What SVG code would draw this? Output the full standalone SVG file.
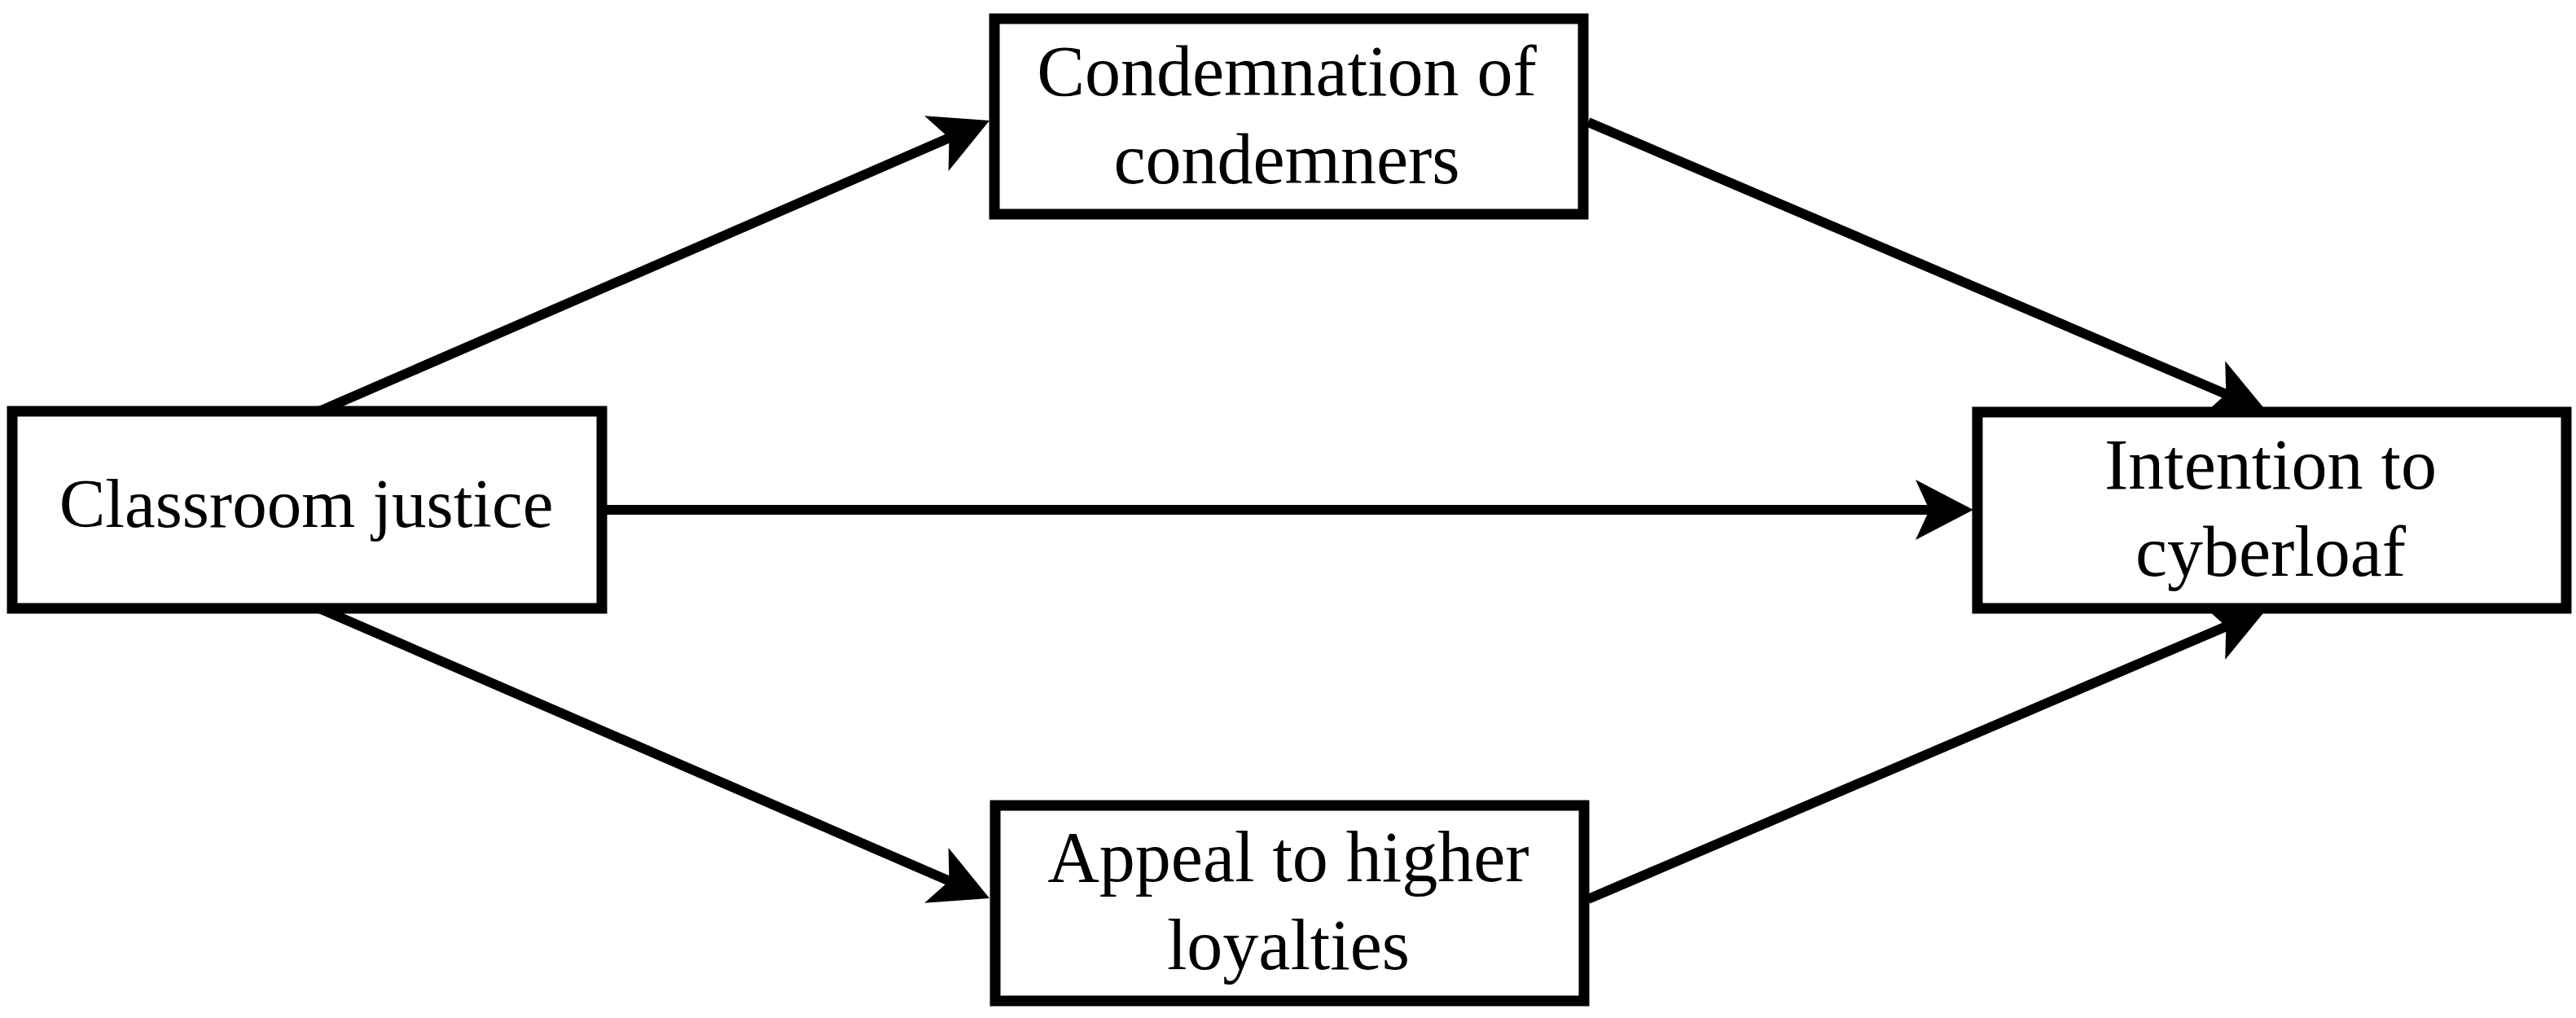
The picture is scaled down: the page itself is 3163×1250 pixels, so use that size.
<svg xmlns="http://www.w3.org/2000/svg" width="3163" height="1250" viewBox="0 0 3163 1250">
  <style>
    .box { fill: #ffffff; stroke: #000000; stroke-width: 13; }
    .lbl { font-family: "Liberation Serif", "Times New Roman", serif; font-size: 88px; fill: #000000; text-anchor: middle; }
    .conn { stroke: #000000; stroke-width: 12; fill: none; marker-end: url(#arrow); }
  </style>
  <defs>
    <marker id="arrow" markerUnits="userSpaceOnUse" viewBox="0 -37 71 74" refX="26" refY="0" markerWidth="71" markerHeight="74" orient="auto">
      <path d="M71,0 L0,-37 L17,0 L0,37 Z" fill="#000000"/>
    </marker>
  </defs>
  <rect x="0" y="0" width="3163" height="1250" fill="#ffffff"/>
  <g id="connectors">
    <line class="conn" x1="392" y1="505" x2="1173.7" y2="165.8"/>
    <line class="conn" x1="1950" y1="150" x2="2741.6" y2="487.4"/>
    <line class="conn" x1="392" y1="747" x2="1173.7" y2="1085.2"/>
    <line class="conn" x1="1950" y1="1104" x2="2741.6" y2="765.7"/>
    <line class="conn" x1="745" y1="626" x2="2378" y2="626"/>
  </g>
  <g id="classroom-justice">
    <rect class="box" x="15" y="505" width="724" height="242"/>
    <text class="lbl" x="376" y="647" style="font-size:85px">Classroom justice</text>
  </g>
  <g id="condemnation">
    <rect class="box" x="1221" y="23" width="723" height="240"/>
    <text class="lbl" x="1580" y="117">Condemnation of</text>
    <text class="lbl" x="1580" y="225">condemners</text>
  </g>
  <g id="intention">
    <rect class="box" x="2428" y="506" width="723" height="241"/>
    <text class="lbl" x="2788" y="600">Intention to</text>
    <text class="lbl" x="2788" y="707">cyberloaf</text>
  </g>
  <g id="appeal">
    <rect class="box" x="1222" y="989" width="723" height="240"/>
    <text class="lbl" x="1582" y="1082">Appeal to higher</text>
    <text class="lbl" x="1582" y="1190">loyalties</text>
  </g>
</svg>
